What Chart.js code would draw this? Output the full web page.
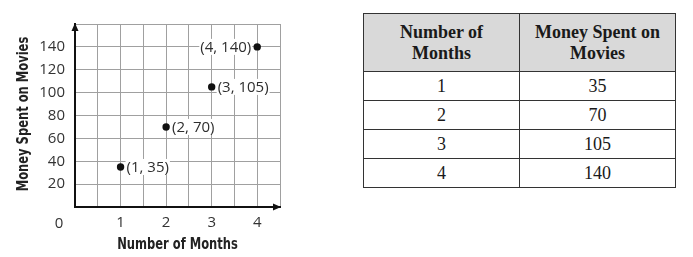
<!DOCTYPE html>
<html><head><meta charset="utf-8">
<script src="https://cdn.jsdelivr.net/npm/chart.js@4/dist/chart.umd.min.js"></script>
<style>
html,body{margin:0;padding:0;background:#fff;width:693px;height:257px;overflow:hidden}
#wrap{position:absolute;left:0;top:0;width:300px;height:257px}
table{position:absolute;left:363px;top:13px;width:313px;border-collapse:collapse;table-layout:fixed;font-family:"Liberation Serif","Times New Roman",serif;color:#1a1a1a}
td,th{border:1.5px solid #333;text-align:center;font-size:18px;height:28px;padding:0;line-height:20px}
th{background:#d9d9d9;font-weight:bold;font-size:18px;height:57px;line-height:21px}
</style></head><body>
<div id="wrap"><canvas id="c" width="300" height="257"></canvas></div>
<table id="t"></table>
<script>
const months = [1, 2, 3, 4];
const money = [35, 70, 105, 140];
const xTickLabels = [1, 2, 3, 4];
const yTickLabels = [20, 40, 60, 80, 100, 120, 140];
const pointLabels = ['(1, 35)', '(2, 70)', '(3, 105)', '(4, 140)'];
const xTitle = 'Number of Months';
const yTitle = 'Money Spent on Movies';
const colHeaders = ['Number of<br>Months', 'Money Spent on<br>Movies'];

// table
const t = document.getElementById('t');
let html = '<tr>' + colHeaders.map(h => '<th>' + h + '</th>').join('') + '</tr>';
months.forEach((m, i) => { html += '<tr><td>' + m + '</td><td>' + money[i] + '</td></tr>'; });
t.innerHTML = html;

const tickFont = {family: '"Open Sans", "Liberation Sans", sans-serif', size: 15};
const titleCss = 'bold 16px "DejaVu Sans Condensed", "DejaVu Sans", sans-serif';

const decor = {
  id: 'decor',
  afterDraw(chart) {
    const ctx = chart.ctx;
    const xs = chart.scales.x, ys = chart.scales.y;
    const x0 = xs.getPixelForValue(0), y0 = ys.getPixelForValue(0);
    const {top, right, left} = chart.chartArea;
    ctx.save();
    ctx.fillStyle = '#111';
    // y arrow
    ctx.beginPath();
    ctx.moveTo(x0, top - 1);
    ctx.lineTo(x0 - 3.5, top + 7);
    ctx.lineTo(x0 + 3.5, top + 7);
    ctx.closePath(); ctx.fill();
    // x arrow
    ctx.beginPath();
    ctx.moveTo(right + 1, y0);
    ctx.lineTo(right - 7, y0 - 3.5);
    ctx.lineTo(right - 7, y0 + 3.5);
    ctx.closePath(); ctx.fill();
    // origin label
    ctx.font = '15px "Open Sans", "Liberation Sans", sans-serif';
    ctx.fillStyle = '#333';
    ctx.textAlign = 'center'; ctx.textBaseline = 'middle';
    ctx.fillText('0', x0 - 16, y0 + 17);
    // point labels
    ctx.font = '15px "Open Sans", "Liberation Sans", sans-serif';
    const meta = chart.getDatasetMeta(0);
    meta.data.forEach((pt, i) => {
      const txt = pointLabels[i];
      const w = ctx.measureText(txt).width;
      const onLeft = i === 3;
      const tx = onLeft ? pt.x - 6 - w : pt.x + 6;
      ctx.fillStyle = '#fff';
      ctx.fillRect(tx - 1, pt.y - 8, w + 2, 16);
      ctx.fillStyle = '#2e2e2e';
      ctx.textAlign = 'left';
      ctx.fillText(txt, tx, pt.y + 0.5);
    });
    // axis titles (condensed bold)
    ctx.font = titleCss;
    ctx.fillStyle = '#222';
    ctx.textAlign = 'center';
    ctx.save();
    ctx.translate((left + right) / 2, 245);
    ctx.scale(0.8, 1);
    ctx.fillText(xTitle, 0, 0);
    ctx.restore();
    ctx.save();
    ctx.translate(24, 114);
    ctx.rotate(-Math.PI / 2);
    ctx.scale(0.8, 1);
    ctx.fillText(yTitle, 0, 0);
    ctx.restore();
    ctx.restore();
  }
};

new Chart(document.getElementById('c'), {
  type: 'scatter',
  data: {
    datasets: [{
      data: months.map((m, i) => ({x: m, y: money[i]})),
      backgroundColor: '#111', borderColor: '#111',
      pointRadius: 3.7, pointHoverRadius: 3.7, borderWidth: 0
    }]
  },
  options: {
    responsive: false, animation: false, devicePixelRatio: 1,
    layout: {padding: {top: 24, right: 20, left: 0, bottom: 0}},
    plugins: {legend: {display: false}, tooltip: {enabled: false}},
    scales: {
      x: {
        type: 'linear', min: 0, max: 4.5,
        afterFit: s => { s.height = 50; },
        afterBuildTicks: s => { const a = []; for (let v = 0; v <= 4.5; v += 0.5) a.push({value: v}); s.ticks = a; },
        ticks: {
          autoSkip: false, maxRotation: 0, padding: 7, font: tickFont, color: '#333',
          callback: v => xTickLabels.includes(v) ? String(v) : ''
        },
        grid: {color: '#a0a0a0', lineWidth: 1, drawTicks: false},
        border: {display: true, color: '#111', width: 2},
        title: {display: false, text: xTitle}
      },
      y: {
        type: 'linear', min: 0, max: 160,
        afterFit: s => { s.width = 75; },
        afterBuildTicks: s => { const a = []; for (let v = 0; v <= 160; v += 20) a.push({value: v}); s.ticks = a; },
        ticks: {
          autoSkip: false, padding: 10, font: tickFont, color: '#333',
          callback: v => yTickLabels.includes(v) ? String(v) : ''
        },
        grid: {color: '#a0a0a0', lineWidth: 1, drawTicks: false},
        border: {display: true, color: '#111', width: 2},
        title: {display: false, text: yTitle}
      }
    }
  },
  plugins: [decor]
});
</script>
</body></html>
